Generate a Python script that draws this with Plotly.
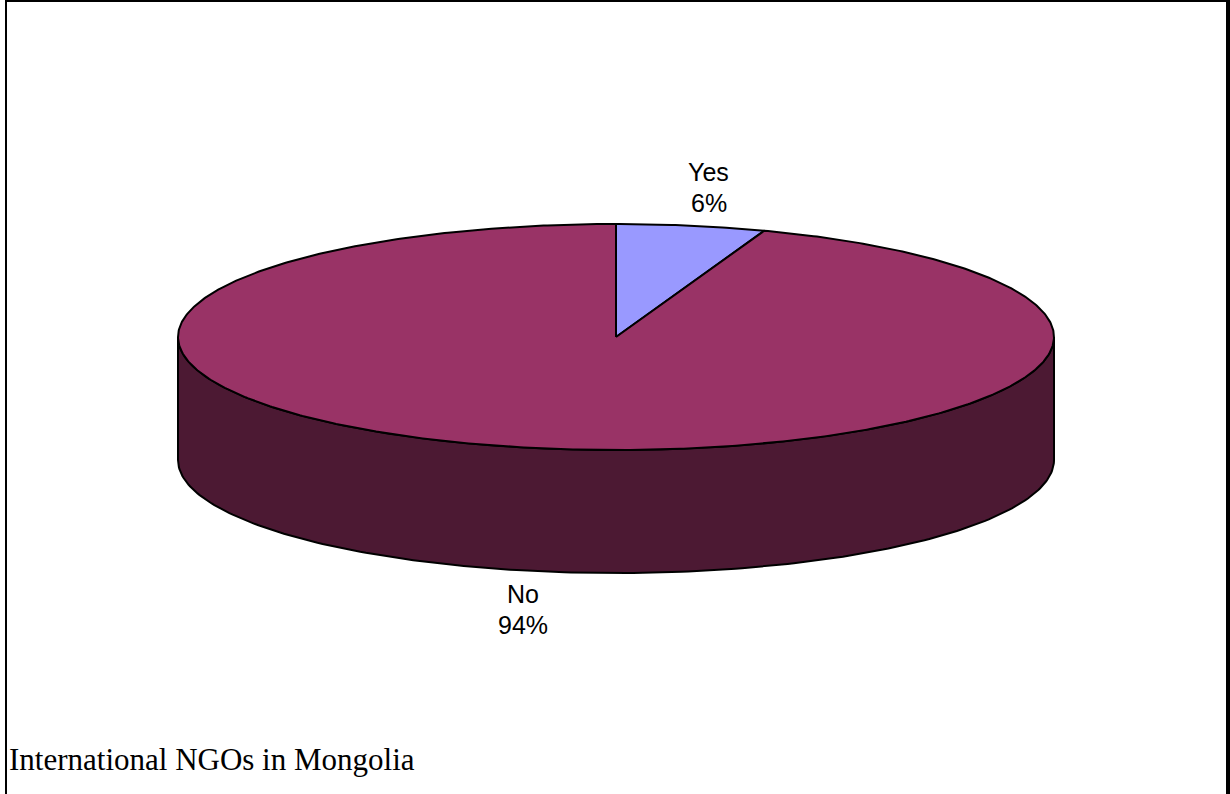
import numpy as np
import plotly.graph_objects as go

# ---- data ----
categories = ["Yes", "No"]
values = [5.5, 94.5]
top_colors = ["#9999FF", "#993366"]
side_colors = ["#4C4C80", "#4C1933"]
title_text = "International NGOs in Mongolia"

# ---- geometry (pixel space) ----
W, H = 1230, 794
cx, cy = 616, 337
rx, ry = 438, 113
depth = 123

def pt(theta_deg, dy=0.0):
    t = np.radians(theta_deg)
    return cx + rx * np.sin(t), cy - ry * np.cos(t) + dy

total = float(sum(values))
angles = [0.0]
for v in values:
    angles.append(angles[-1] + 360.0 * v / total)

fig = go.Figure()

# sides (front half only: 90..270 deg clockwise from top)
for i in range(len(values)):
    a0, a1 = angles[i], angles[i + 1]
    s0, s1 = max(a0, 90.0), min(a1, 270.0)
    if s1 <= s0:
        continue
    th = np.linspace(s0, s1, 200)
    xs_top, ys_top = pt(th)
    xs_bot, ys_bot = pt(th[::-1], depth)
    xs = np.concatenate([xs_top, xs_bot, xs_top[:1]])
    ys = np.concatenate([ys_top, ys_bot, ys_top[:1]])
    fig.add_trace(go.Scatter(x=xs, y=ys, mode="lines", fill="toself",
                             fillcolor=side_colors[i],
                             line=dict(color="black", width=2),
                             hoverinfo="skip", showlegend=False))

# tops
for i in range(len(values)):
    a0, a1 = angles[i], angles[i + 1]
    th = np.linspace(a0, a1, max(int((a1 - a0) * 2), 10))
    ax, ay = pt(th)
    xs = np.concatenate([[cx], ax, [cx]])
    ys = np.concatenate([[cy], ay, [cy]])
    fig.add_trace(go.Scatter(x=xs, y=ys, mode="lines", fill="toself",
                             fillcolor=top_colors[i],
                             line=dict(color="black", width=2),
                             hoverinfo="skip", showlegend=False))

# labels (two lines each)
lab_font = dict(family="Liberation Sans, Arial", size=25, color="black")
for i, (c, v) in enumerate(zip(categories, values)):
    mid = np.radians((angles[i] + angles[i + 1]) / 2.0)
    lx = cx + 540 * np.sin(mid)
    ly = cy - 152 * np.cos(mid)
    if np.cos(mid) < 0:
        ly += depth
    pct = 100.0 * v / total
    fig.add_annotation(x=lx, y=ly - 15.5, xref="x", yref="y", text=c,
                       showarrow=False, font=lab_font)
    fig.add_annotation(x=lx, y=ly + 15.5, xref="x", yref="y", text=f"{pct:.0f}%",
                       showarrow=False, font=lab_font)

# title at bottom-left
fig.add_annotation(x=7, y=759, xref="x", yref="y", text=title_text,
                   showarrow=False, xanchor="left", yanchor="middle",
                   font=dict(family="Liberation Serif, Times New Roman", size=31, color="black"))

# frame
fig.add_shape(type="line", x0=6, x1=6, y0=0, y1=H, xref="x", yref="y",
              line=dict(color="black", width=2))
fig.add_shape(type="line", x0=6, x1=1226, y0=1, y1=1, xref="x", yref="y",
              line=dict(color="black", width=2))
fig.add_shape(type="rect", x0=1226, x1=W, y0=0, y1=H, xref="x", yref="y",
              line=dict(width=0), fillcolor="black")

fig.update_layout(
    width=W, height=H,
    margin=dict(l=0, r=0, t=0, b=0),
    paper_bgcolor="white", plot_bgcolor="white",
    xaxis=dict(range=[0, W], visible=False, fixedrange=True),
    yaxis=dict(range=[H, 0], visible=False, fixedrange=True),
    hovermode=False,
)

fig.write_html("out.html", config={"displayModeBar": False, "staticPlot": True},
               post_script="document.body.style.margin='0';document.body.style.overflow='hidden';")
